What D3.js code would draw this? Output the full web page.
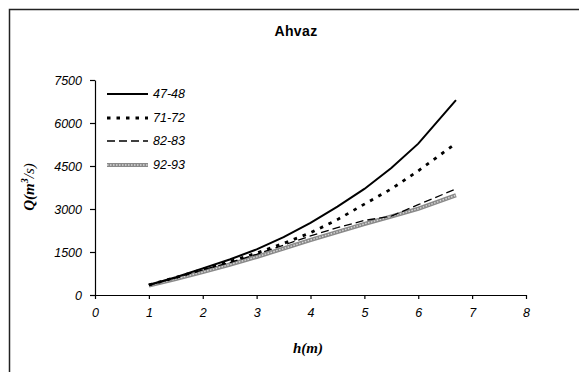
<!DOCTYPE html>
<html lang="en">
<head>
<meta charset="utf-8">
<title>Ahvaz rating curves</title>
<script src="https://d3js.org/d3.v7.min.js"></script>
<style>
  body { margin: 0; background: #fff; }
  svg text { font-family: "Liberation Sans", Arial, sans-serif; }
</style>
</head>
<body>
<script>
// stage h (m) and discharge Q (m3/s)
const stage = [1, 1.5, 2, 2.5, 3, 3.5, 4, 4.5, 5, 5.5, 6, 6.7];
const q4748 = [350, 620, 930, 1240, 1590, 2020, 2520, 3080, 3700, 4430, 5280, 6800];
const q7172 = [350, 610, 900, 1170, 1460, 1800, 2170, 2630, 3170, 3700, 4330, 5290];
const q8283 = [350, 600, 880, 1130, 1420, 1740, 2060, 2350, 2600, 2750, 3150, 3700];
const q9293 = [330, 560, 800, 1060, 1330, 1620, 1920, 2200, 2480, 2740, 3010, 3480];
const seriesNames = ["47-48", "71-72", "82-83", "92-93"];
const xTicks = [0, 1, 2, 3, 4, 5, 6, 7, 8];
const yTicks = [0, 1500, 3000, 4500, 6000, 7500];

const width = 579, height = 372;
const svg = d3.select("body").append("svg")
  .attr("width", width).attr("height", height);

// outer frame (runs off the right and bottom edge)
svg.append("rect")
  .attr("x", 9.5).attr("y", 9.5)
  .attr("width", 700).attr("height", 500)
  .attr("fill", "none").attr("stroke", "#222").attr("stroke-width", 1.5);

const x = d3.scaleLinear().domain([0, 8]).range([95, 526]);
const y = d3.scaleLinear().domain([0, 7500]).range([295, 80]);

// axes
const xAxis = svg.append("g").attr("transform", "translate(0,295)")
  .call(d3.axisBottom(x).tickValues(xTicks).tickSize(4).tickPadding(9).tickSizeOuter(0));
const yAxis = svg.append("g").attr("transform", "translate(95,0)")
  .call(d3.axisLeft(y).tickValues(yTicks).tickFormat(d3.format("d"))
    .tickSize(5).tickPadding(8).tickSizeOuter(0));

[xAxis, yAxis].forEach(a => {
  a.select(".domain").attr("stroke", "#000").attr("stroke-width", 1.2);
  a.selectAll(".tick line").attr("stroke", "#000").attr("stroke-width", 1.2);
  a.selectAll(".tick text")
    .attr("font-family", "Liberation Sans, Arial, sans-serif")
    .attr("font-size", 12.5).attr("font-style", "italic").attr("fill", "#000");
});

// series styles
const styles = [
  { data: q4748, stroke: "#000", w: 2, dash: null },
  { data: q7172, stroke: "#000", w: 2.8, dash: "3.5,6" },
  { data: q8283, stroke: "#000", w: 1.3, dash: "8,4" },
  { data: q9293, stroke: "#8a8a8a", w: 4.2, dash: null, gray: true }
];

const line = d3.line().x((d, i) => x(stage[i])).y(d => y(d));

styles.slice().reverse().forEach(s => {
  svg.append("path").datum(s.data)
    .attr("d", line).attr("fill", "none")
    .attr("stroke", s.stroke).attr("stroke-width", s.w)
    .attr("stroke-dasharray", s.dash);
  if (s.gray) {
    svg.append("path").datum(s.data)
      .attr("d", line).attr("fill", "none")
      .attr("stroke", "#d8d8d8").attr("stroke-width", 1.4)
      .attr("stroke-dasharray", "1.5,1.5");
  }
});

// legend
const legY = [94, 118, 141, 165];
styles.forEach((s, i) => {
  const g = svg.append("g");
  g.append("line")
    .attr("x1", 107).attr("x2", 148).attr("y1", legY[i]).attr("y2", legY[i])
    .attr("stroke", s.stroke).attr("stroke-width", s.w)
    .attr("stroke-dasharray", s.dash);
  if (s.gray) {
    g.append("line")
      .attr("x1", 107).attr("x2", 148).attr("y1", legY[i]).attr("y2", legY[i])
      .attr("stroke", "#d8d8d8").attr("stroke-width", 1.4)
      .attr("stroke-dasharray", "1.5,1.5");
  }
  g.append("text")
    .attr("x", 153).attr("y", legY[i]).attr("dy", "0.35em")
    .attr("font-size", 12.5).attr("font-style", "italic")
    .text(seriesNames[i]);
});

// title
svg.append("text")
  .attr("x", 296).attr("y", 36).attr("text-anchor", "middle")
  .attr("font-size", 14).attr("font-weight", "bold")
  .attr("letter-spacing", 0.4)
  .text("Ahvaz");

// axis titles
svg.append("text")
  .attr("x", 308).attr("y", 353).attr("text-anchor", "middle")
  .style("font-family", "Liberation Serif, Times New Roman, serif")
  .attr("font-size", 15).attr("font-weight", "bold").attr("font-style", "italic")
  .text("h(m)");

const yl = svg.append("text")
  .attr("transform", "translate(34,187) rotate(-90)")
  .attr("text-anchor", "middle")
  .style("font-family", "Liberation Serif, Times New Roman, serif")
  .attr("font-size", 15).attr("font-weight", "bold").attr("font-style", "italic");
yl.append("tspan").text("Q(m");
yl.append("tspan").attr("font-size", 10).attr("dy", -6).text("3");
yl.append("tspan").attr("font-weight", "normal").attr("dy", 6).text("/s)");
</script>
</body>
</html>
